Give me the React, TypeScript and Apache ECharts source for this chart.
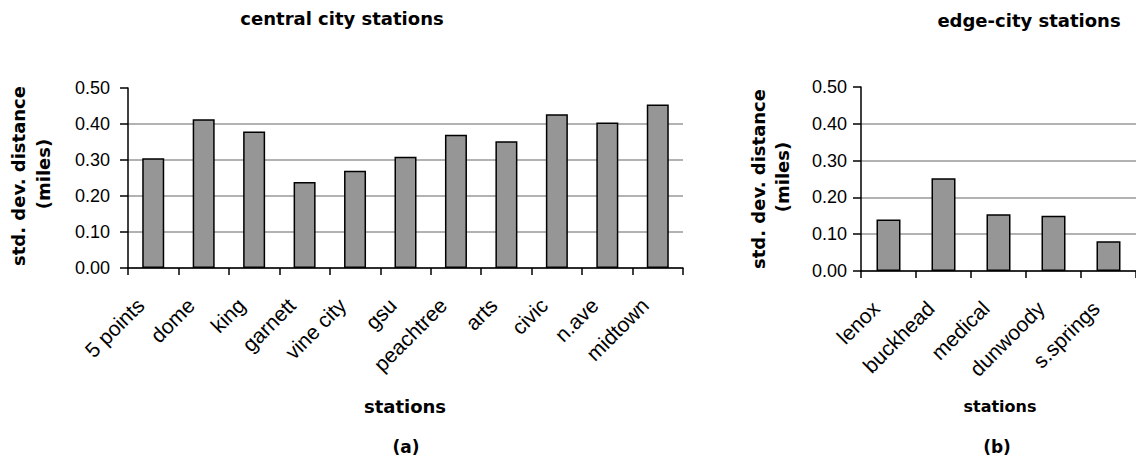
import React, { useEffect, useRef } from "react";
import * as echarts from "echarts";

const centralStations = ["5 points", "dome", "king", "garnett", "vine city", "gsu", "peachtree", "arts", "civic", "n.ave", "midtown"];
const centralValues = [0.305, 0.413, 0.379, 0.239, 0.27, 0.309, 0.37, 0.352, 0.427, 0.404, 0.454];
const edgeStations = ["lenox", "buckhead", "medical", "dunwoody", "s.springs"];
const edgeValues = [0.14, 0.252, 0.154, 0.15, 0.081];
const yMin = 0;
const yMax = 0.5;
const yStep = 0.1;

const titleFont = "'DejaVu Sans', Verdana, sans-serif";
const tickFont = "'Liberation Sans', Arial, sans-serif";

function makeYAxis(gridIndex: number, margin: number) {
  return {
    type: "value",
    gridIndex,
    min: yMin,
    max: yMax,
    interval: yStep,
    axisLine: { show: true, lineStyle: { color: "#000", width: 1.5 } },
    axisTick: { show: true, inside: false, length: 8, lineStyle: { color: "#000", width: 1.5 } },
    axisLabel: {
      margin,
      fontFamily: tickFont,
      fontSize: 18,
      color: "#000",
      formatter: (v: number) => v.toFixed(2),
    },
    splitLine: { show: true, showMaxLine: false, lineStyle: { color: "#999", width: 1.5 } },
  };
}

function makeXAxis(gridIndex: number, data: string[]) {
  return {
    type: "category",
    gridIndex,
    data,
    boundaryGap: true,
    axisLine: { show: true, lineStyle: { color: "#000", width: 1.5 } },
    axisTick: { show: true, length: 7, alignWithLabel: false, lineStyle: { color: "#000", width: 1.5 } },
    axisLabel: {
      interval: 0,
      rotate: 45,
      margin: 21,
      padding: [0, 18, 0, 0],
      fontFamily: tickFont,
      fontSize: 21,
      color: "#000",
    },
    splitLine: { show: false },
  };
}

function txt(x: number, y: number, text: string, size: number, rotation = 0, weight = "bold") {
  return {
    type: "text",
    x,
    y,
    rotation,
    style: {
      text,
      fontFamily: titleFont,
      fontSize: size,
      fontWeight: weight,
      fill: "#000",
      textAlign: "center",
      textVerticalAlign: "middle",
    },
  };
}

export default function App() {
  const ref = useRef<HTMLDivElement>(null);
  useEffect(() => {
    if (!ref.current) return;
    const chart = echarts.init(ref.current, undefined, { renderer: "svg" });
    chart.setOption({
      animation: false,
      backgroundColor: "#fff",
      grid: [
        { left: 128, top: 88, width: 555, height: 180 },
        { left: 861, top: 87, width: 275, height: 184 },
      ],
      xAxis: [makeXAxis(0, centralStations), makeXAxis(1, edgeStations)],
      yAxis: [makeYAxis(0, 18), makeYAxis(1, 14)],
      series: [
        {
          type: "bar",
          xAxisIndex: 0,
          yAxisIndex: 0,
          data: centralValues,
          barWidth: 22,
          itemStyle: { color: "#969696", borderColor: "#000", borderWidth: 1.5 },
        },
        {
          type: "bar",
          xAxisIndex: 1,
          yAxisIndex: 1,
          data: edgeValues,
          barWidth: 24,
          itemStyle: { color: "#969696", borderColor: "#000", borderWidth: 1.5 },
        },
      ],
      graphic: [
        txt(342, 18, "central city stations", 18),
        txt(1029, 20, "edge-city stations", 18),
        txt(18, 176, "std. dev. distance", 18, Math.PI / 2),
        txt(43, 174, "(miles)", 18, Math.PI / 2),
        txt(758, 179, "std. dev. distance", 18, Math.PI / 2),
        txt(782, 177, "(miles)", 18, Math.PI / 2),
        txt(405, 406, "stations", 18),
        txt(1000, 406, "stations", 16),
        txt(406, 447, "(a)", 17),
        txt(997, 447, "(b)", 17),
      ],
    });
    return () => chart.dispose();
  }, []);
  return (
    <div
      ref={ref}
      style={{ position: "fixed", left: 0, top: 0, width: 1136, height: 463, background: "#fff" }}
    />
  );
}
